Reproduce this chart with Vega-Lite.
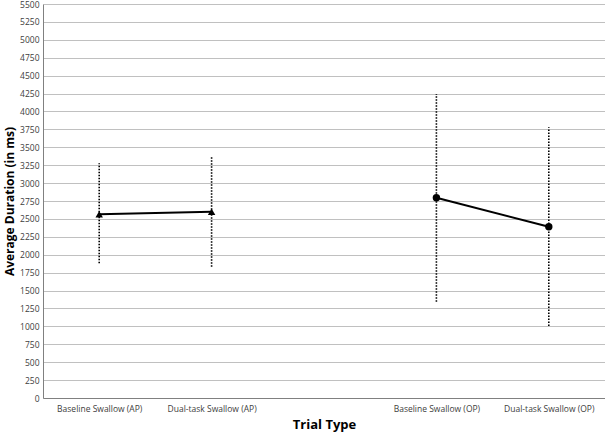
{
  "$schema": "https://vega.github.io/schema/vega-lite/v6.json",
  "autosize": {"type": "none"},
  "width": 562,
  "height": 394,
  "padding": {"left": 43, "top": 4, "right": 0, "bottom": 36},
  "background": "white",
  "config": {
    "view": {"stroke": null},
    "font": "Open Sans",
    "axisY": {
      "titleFont": "Open Sans",
      "titleFontSize": 12,
      "titleFontWeight": "bold",
      "titleColor": "#000000",
      "titlePadding": 3,
      "labelFontSize": 8.5,
      "labelColor": "#404040",
      "labelPadding": 4,
      "ticks": false,
      "domainColor": "#808080",
      "domainWidth": 1,
      "gridColor": "#c0c0c0",
      "gridWidth": 1
    }
  },
  "data": {
    "values": [
      {"trial": "Baseline Swallow (AP)", "group": "AP", "mean": 2565, "lo": 1880, "hi": 3276},
      {"trial": "Dual-task Swallow (AP)", "group": "AP", "mean": 2601, "lo": 1833, "hi": 3378},
      {"trial": "Baseline Swallow (OP)", "group": "OP", "mean": 2796, "lo": 1344, "hi": 4243},
      {"trial": "Dual-task Swallow (OP)", "group": "OP", "mean": 2391, "lo": 1005, "hi": 3779}
    ]
  },
  "encoding": {
    "x": {
      "field": "trial",
      "type": "nominal",
      "sort": null,
      "scale": {
        "type": "point",
        "padding": 0.5,
        "domain": ["Baseline Swallow (AP)", "Dual-task Swallow (AP)", " ", "Baseline Swallow (OP)", "Dual-task Swallow (OP)"]
      },
      "axis": {
        "title": "Trial Type",
        "titleFont": "Open Sans",
        "titleFontSize": 13,
        "titleFontWeight": "bold",
        "titleColor": "#000000",
        "titlePadding": 6,
        "labelAngle": 0,
        "labelFontSize": 8.5,
        "labelColor": "#404040",
        "labelPadding": 6,
        "ticks": false,
        "domainColor": "#808080",
        "domainWidth": 1,
        "grid": false
      }
    }
  },
  "layer": [
    {
      "mark": {"type": "rule", "stroke": "#000000", "strokeWidth": 1.6, "strokeDash": [1.5, 1.5]},
      "encoding": {
        "y": {
          "field": "lo",
          "type": "quantitative",
          "scale": {"domain": [0, 5500], "nice": false},
          "axis": {
            "title": "Average Duration (in ms)",
            "values": [0, 250, 500, 750, 1000, 1250, 1500, 1750, 2000, 2250, 2500, 2750, 3000, 3250, 3500, 3750, 4000, 4250, 4500, 4750, 5000, 5250, 5500],
            "format": "d"
          }
        },
        "y2": {"field": "hi"}
      }
    },
    {
      "mark": {"type": "line", "stroke": "#000000", "strokeWidth": 2},
      "encoding": {
        "y": {
          "field": "mean",
          "type": "quantitative",
          "axis": {
            "title": "Average Duration (in ms)",
            "values": [0, 250, 500, 750, 1000, 1250, 1500, 1750, 2000, 2250, 2500, 2750, 3000, 3250, 3500, 3750, 4000, 4250, 4500, 4750, 5000, 5250, 5500],
            "format": "d"
          }
        },
        "detail": {"field": "group", "type": "nominal"}
      }
    },
    {
      "mark": {"type": "point", "filled": true, "color": "#000000", "opacity": 1},
      "encoding": {
        "y": {
          "field": "mean",
          "type": "quantitative",
          "axis": {
            "title": "Average Duration (in ms)",
            "values": [0, 250, 500, 750, 1000, 1250, 1500, 1750, 2000, 2250, 2500, 2750, 3000, 3250, 3500, 3750, 4000, 4250, 4500, 4750, 5000, 5250, 5500],
            "format": "d"
          }
        },
        "shape": {
          "field": "group",
          "type": "nominal",
          "scale": {"domain": ["AP", "OP"], "range": ["triangle-up", "circle"]},
          "legend": null
        },
        "size": {"value": 55}
      }
    }
  ]
}
